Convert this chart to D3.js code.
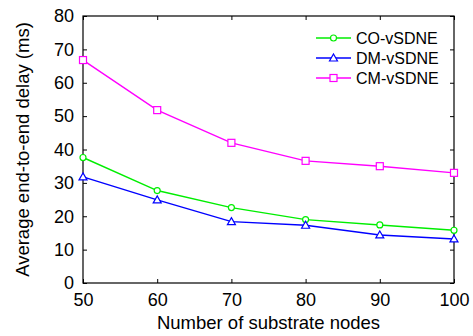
<!DOCTYPE html>
<html>
<head>
<meta charset="utf-8">
<script src="https://cdn.jsdelivr.net/npm/d3@7"></script>
<style>
  body { margin: 0; background: #fff; }
  svg { display: block; font-family: Arial, "Liberation Sans", Helvetica, sans-serif; }
</style>
</head>
<body>
<div id="chart"></div>
<script>
// data
var nodes = [50, 60, 70, 80, 90, 100];
var coVals = [37.6, 27.7, 22.6, 19.0, 17.4, 15.8];
var dmVals = [31.8, 24.9, 18.4, 17.3, 14.4, 13.2];
var cmVals = [66.8, 51.8, 42.0, 36.6, 35.0, 33.0];
var yTicks = [0, 10, 20, 30, 40, 50, 60, 70, 80];
var seriesNames = ['CO-vSDNE', 'DM-vSDNE', 'CM-vSDNE'];

var W = 473, H = 336;
var mLeft = 83, mRight = 454, mTop = 16, mBottom = 283;

var svg = d3.select('#chart').append('svg').attr('width', W).attr('height', H);

var x = d3.scaleLinear().domain([50, 100]).range([mLeft, mRight]);
var y = d3.scaleLinear().domain([0, 80]).range([mBottom, mTop]);

var series = [
  { name: seriesNames[0], vals: coVals, color: '#00ee00', marker: 'circle' },
  { name: seriesNames[1], vals: dmVals, color: '#0000ff', marker: 'triangle' },
  { name: seriesNames[2], vals: cmVals, color: '#ff00ff', marker: 'square' }
];

// axes box with inward ticks on all sides
var tickLen = 4;
var axB = d3.axisBottom(x).tickValues(nodes).tickSizeInner(-tickLen).tickSizeOuter(0).tickPadding(10);
var axT = d3.axisTop(x).tickValues(nodes).tickSizeInner(-tickLen).tickSizeOuter(0).tickFormat('');
var axL = d3.axisLeft(y).tickValues(yTicks).tickSizeInner(-tickLen).tickSizeOuter(0).tickPadding(9);
var axR = d3.axisRight(y).tickValues(yTicks).tickSizeInner(-tickLen).tickSizeOuter(0).tickFormat('');

function styleAxis(g) {
  g.select('.domain').remove();
  g.selectAll('line').attr('stroke', '#000');
  g.selectAll('text').attr('fill', '#000').style('font-size', '18px');
}
svg.append('g').attr('transform', 'translate(0,' + mBottom + ')').call(axB).call(styleAxis);
svg.append('g').attr('transform', 'translate(0,' + mTop + ')').call(axT).call(styleAxis);
svg.append('g').attr('transform', 'translate(' + mLeft + ',0)').call(axL).call(styleAxis);
svg.append('g').attr('transform', 'translate(' + mRight + ',0)').call(axR).call(styleAxis);

svg.append('rect').attr('x', mLeft).attr('y', mTop).attr('width', mRight - mLeft).attr('height', mBottom - mTop)
  .attr('fill', 'none').attr('stroke', '#000').attr('stroke-width', 1.2);

function drawMarker(g, type, cx, cy, color) {
  if (type === 'circle') {
    g.append('circle').attr('cx', cx).attr('cy', cy).attr('r', 3)
      .attr('fill', '#fff').attr('stroke', color).attr('stroke-width', 1.2);
  } else if (type === 'square') {
    g.append('rect').attr('x', cx - 3.5).attr('y', cy - 3.5).attr('width', 7).attr('height', 7)
      .attr('fill', '#fff').attr('stroke', color).attr('stroke-width', 1.2);
  } else {
    g.append('path').attr('d', 'M' + cx + ',' + (cy - 4) + 'L' + (cx + 4) + ',' + (cy + 3) + 'L' + (cx - 4) + ',' + (cy + 3) + 'Z')
      .attr('fill', '#fff').attr('stroke', color).attr('stroke-width', 1.2);
  }
}

var line = d3.line().x(function(d, i) { return x(nodes[i]); }).y(function(d) { return y(d); });

series.forEach(function(s) {
  var g = svg.append('g');
  g.append('path').datum(s.vals).attr('d', line).attr('fill', 'none')
    .attr('stroke', s.color).attr('stroke-width', 1.4);
  s.vals.forEach(function(v, i) {
    drawMarker(g, s.marker, x(nodes[i]), y(v), s.color);
  });
});

// legend
var leg = svg.append('g');
series.forEach(function(s, i) {
  var ly = 38 + i * 20;
  leg.append('line').attr('x1', 316).attr('x2', 351).attr('y1', ly).attr('y2', ly)
    .attr('stroke', s.color).attr('stroke-width', 1.4);
  drawMarker(leg, s.marker, 333.5, ly, s.color);
  leg.append('text').attr('x', 356).attr('y', ly + 5.5).style('font-size', '16px').attr('fill', '#000').text(s.name);
});

// axis labels
svg.append('text').attr('x', (mLeft + mRight) / 2).attr('y', 329).attr('text-anchor', 'middle')
  .style('font-size', '18.5px').text('Number of substrate nodes');
svg.append('text').attr('transform', 'translate(29,' + ((mTop + mBottom) / 2) + ') rotate(-90)')
  .attr('text-anchor', 'middle').style('font-size', '18.5px').text('Average end-to-end delay (ms)');
</script>
</body>
</html>
